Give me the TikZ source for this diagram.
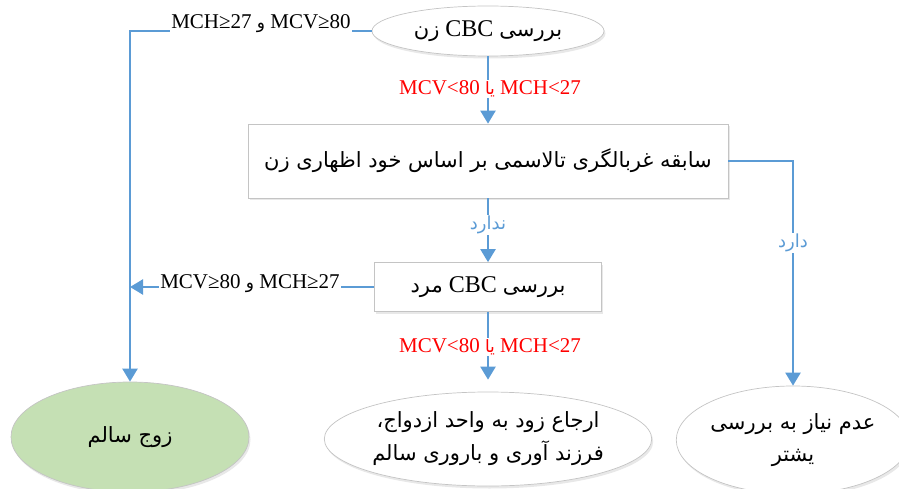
\documentclass[tikz,border=0pt]{standalone}
\usepackage{fontspec}
\setmainfont{Liberation Serif}
\newfontfamily\fa[Script=Arabic]{DejaVu Sans}
\TeXXeTstate=1
\usetikzlibrary{shapes.geometric,arrows.meta,shadows}
\definecolor{lblue}{HTML}{5B9BD5}
\definecolor{bord}{HTML}{C4C4C4}
\definecolor{lgreen}{HTML}{C5E0B4}
\newcommand\fas[1]{{\fa\fontsize{17}{20}\selectfont\beginR#1\endR}}
\newcommand\fab[1]{{\fa\fontsize{21}{24}\selectfont\beginR#1\endR}}
\begin{document}
\begin{tikzpicture}[x=1pt,y=-1pt,
  conn/.style={draw=lblue, line width=2.3pt},
  arr/.style={conn, -{Triangle[width=15pt,length=13pt]}},
  shad/.style={drop shadow={shadow xshift=1.5pt, shadow yshift=-2.5pt, opacity=0.18, fill=gray}},
  ell/.style={ellipse, draw=bord, line width=0.7pt, fill=white, shad, inner sep=0pt, align=center},
  boxn/.style={rectangle, draw=bord, line width=0.7pt, fill=white, shad, inner sep=0pt},
  cond/.style={fill=white, inner sep=1pt, font=\fontsize{21}{24}\selectfont},
  redc/.style={cond, text=red},
  yesno/.style={fill=white, inner sep=1pt, text=lblue, font=\fa\fontsize{18}{21}\selectfont}]
\useasboundingbox (0,0) rectangle (899,489);

\node[ell, minimum width=232pt, minimum height=50pt, font=\fontsize{24}{27}\selectfont] (e1) at (488,31) {\fab{زن} CBC \fab{بررسی}};
\node[boxn, minimum width=480pt, minimum height=74pt, font=\fa\fontsize{21}{24}\selectfont] (b2) at (488,161) {\beginR سابقه غربالگری تالاسمی بر اساس خود اظهاری زن\endR};
\node[boxn, minimum width=227pt, minimum height=49pt, font=\fontsize{24}{27}\selectfont] (b3) at (488,287) {\fab{مرد} CBC \fab{بررسی}};

\node[ell, fill=lgreen, minimum width=238pt, minimum height=110pt, font=\fa\fontsize{21}{24}\selectfont] (g) at (130,437) {\beginR زوج سالم\endR};
\node[ell, minimum width=316pt, minimum height=94pt, font=\fa\fontsize{21}{33}\selectfont] (m) at (488,439) {\beginR ارجاع زود به واحد ازدواج،\endR\\\beginR فرزند آوری و باروری سالم\endR};
\node[ell, minimum width=222pt, minimum height=108pt, font=\fa\fontsize{21}{32}\selectfont] (r) at (793,440) {\beginR عدم نیاز به بررسی\endR\\\beginR یشتر\endR};

\draw[arr] (e1.west) -| (g.north);
\node[cond] (l1) at (261,24) {MCH≥27 \fas{و} MCV≥80};
\draw[arr] (e1.south) -- (b2.north);
\node[redc] (l2) at (490,89) {MCV<80 \fas{یا} MCH<27};
\draw[arr] (b2.south) -- (b3.north);
\node[yesno] (l3) at (488,225) {\beginR ندارد\endR};
\draw[arr] (b2.east) -| (r.north);
\node[yesno] (l4) at (793,243) {\beginR دارد\endR};
\draw[arr] (b3.west) -- (b3.west -| g.north);
\node[cond] (l5) at (250,284) {MCV≥80 \fas{و} MCH≥27};
\draw[arr, shorten >=12pt] (b3.south) -- (m.north);
\node[redc] (l6) at (490,347) {MCV<80 \fas{یا} MCH<27};
\end{tikzpicture}
\end{document}
